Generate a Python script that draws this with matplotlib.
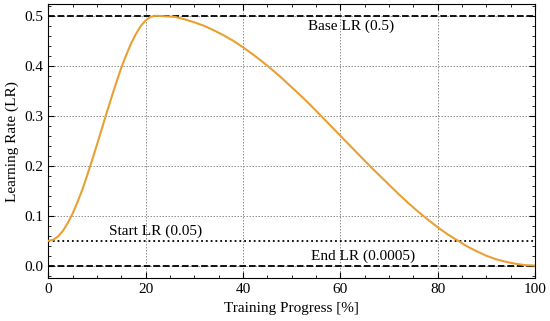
import matplotlib.pyplot as plt
from matplotlib.ticker import MultipleLocator

# values
progress = [0, 1, 2, 3, 4, 5, 6, 7, 8, 9, 10, 11, 12, 13, 14, 15, 16, 17, 18, 19,
            20, 21, 22, 23, 24, 26, 28, 30,
            32, 34, 36, 38, 40, 42, 44, 46, 48, 50, 52, 54, 56, 58, 60, 62, 64,
            66, 68, 70, 72, 74, 76, 78, 80, 82, 84, 86, 88, 90, 92, 94, 96, 98, 100]
lr = [0.050, 0.052, 0.059, 0.070, 0.086, 0.105, 0.128, 0.153, 0.182, 0.212,
      0.243, 0.275, 0.307, 0.338, 0.368, 0.397, 0.422, 0.445, 0.464, 0.480,
      0.491, 0.498, 0.500, 0.4998, 0.499, 0.498, 0.493, 0.487,
      0.480, 0.471, 0.461, 0.450, 0.437, 0.423, 0.408, 0.392, 0.375, 0.357, 0.339,
      0.320, 0.300, 0.280, 0.260, 0.240, 0.220, 0.200, 0.181, 0.162, 0.143, 0.125,
      0.108, 0.092, 0.077, 0.063, 0.051, 0.039, 0.029, 0.020, 0.013, 0.008, 0.004,
      0.0013, 0.0005]

base_lr = 0.5
start_lr = 0.05
end_lr = 0.0005

plt.rcParams['font.family'] = ['Liberation Serif', 'DejaVu Serif']
plt.rcParams['font.size'] = 11

fig = plt.figure(figsize=(5.5, 3.21), dpi=100)
ax = fig.add_axes([0.088, 0.133, 0.885, 0.855])

ax.grid(True, which='major', linestyle='--', linewidth=0.6, color='#808080', dashes=(1.8, 1.8))
ax.axhline(base_lr, color='black', linestyle='--', linewidth=1.3, zorder=2)
ax.axhline(start_lr, color='black', linestyle=':', linewidth=1.3, zorder=2)
ax.axhline(end_lr, color='black', linestyle='--', linewidth=1.3, zorder=2)
ax.plot(progress, lr, color='#E8A033', linewidth=1.5, zorder=3)

ax.text(62.2, 0.480, 'Base LR (0.5)', ha='center', va='center')
ax.text(22.0, 0.069, 'Start LR (0.05)', ha='center', va='center')
ax.text(64.6, 0.019, 'End LR (0.0005)', ha='center', va='center')

ax.set_xlim(0, 100)
ax.set_ylim(-0.025, 0.524)
ax.xaxis.set_major_locator(MultipleLocator(20))
ax.xaxis.set_minor_locator(MultipleLocator(5))
ax.yaxis.set_major_locator(MultipleLocator(0.1))
ax.yaxis.set_minor_locator(MultipleLocator(0.02))
ax.tick_params(which='both', direction='in', top=True, right=True)
ax.tick_params(which='major', length=4)
ax.tick_params(which='minor', length=2)
ax.set_xlabel('Training Progress [%]')
ax.set_ylabel('Learning Rate (LR)')

fig.savefig('out.png', dpi=100)
